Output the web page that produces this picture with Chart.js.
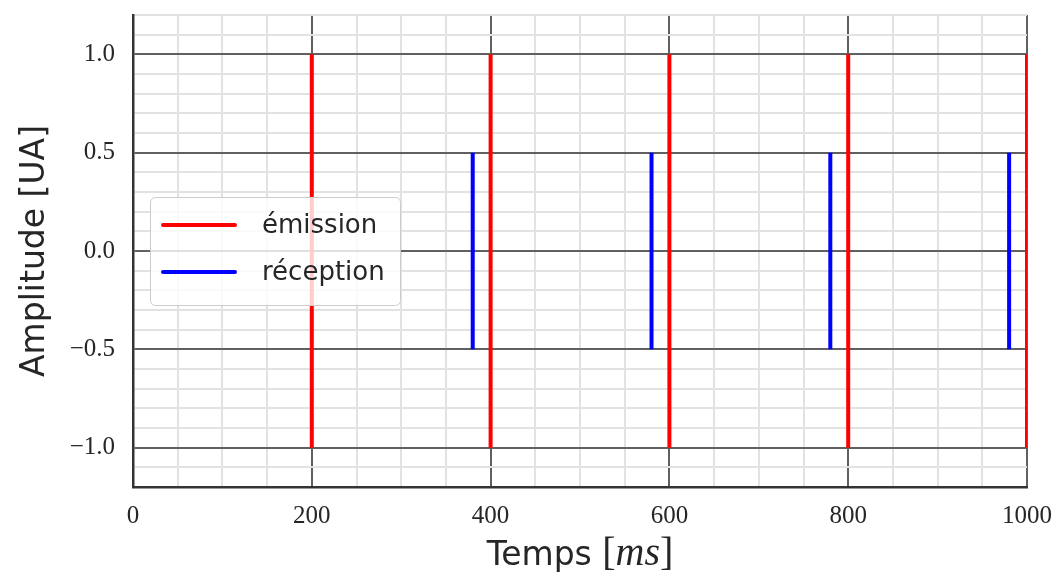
<!DOCTYPE html>
<html>
<head>
<meta charset="utf-8">
<script src="https://cdn.jsdelivr.net/npm/chart.js@4"></script>
<style>
  html, body { margin: 0; padding: 0; background: #fff; }
  #wrap { width: 1056px; height: 573px; }
</style>
</head>
<body>
<div id="wrap"><canvas id="chart" width="1056" height="573"></canvas></div>
<script>
// --- data ---
const emissionTimes = [200, 400, 600, 800, 1000];
const emissionAmp = 1.0;
const receptionTimes = [380, 580, 780, 980];
const receptionAmp = 0.5;
const seriesLabels = ['émission', 'réception'];
const seriesColors = ['#ff0000', '#0000ff'];
const xMajorTicks = [0, 200, 400, 600, 800, 1000];
const yMajorTicks = [-1.0, -0.5, 0.0, 0.5, 1.0];

// vertical segments from -amp to +amp, separated by gaps
function pulses(times, amp) {
    const pts = [];
    times.forEach(t => {
        pts.push({ x: t, y: -amp });
        pts.push({ x: t, y: amp });
        pts.push({ x: t, y: null });
    });
    return pts;
}

const isMajor = (v, list) => list.some(m => Math.abs(m - v) < 1e-6);
const fmtY = v => (v < -1e-9 ? '\u2212' : '') + Math.abs(v).toFixed(1);

// legend drawn inside the plot, semi-transparent box
const insideLegend = {
    id: 'insideLegend',
    afterDatasetsDraw(chart) {
        const ctx = chart.ctx;
        const x = 150, y = 197, w = 250, h = 108, r = 5;
        ctx.save();
        ctx.beginPath();
        ctx.roundRect(x + 0.5, y + 0.5, w, h, r);
        ctx.fillStyle = 'rgba(255,255,255,0.8)';
        ctx.fill();
        ctx.strokeStyle = '#cccccc';
        ctx.lineWidth = 1;
        ctx.stroke();
        chart.data.datasets.forEach((ds, i) => {
            const ly = 225 + i * 47;
            ctx.beginPath();
            ctx.moveTo(163, ly);
            ctx.lineTo(235, ly);
            ctx.strokeStyle = ds.borderColor;
            ctx.lineWidth = 4;
            ctx.lineCap = 'round';
            ctx.stroke();
            ctx.fillStyle = '#262626';
            ctx.font = '26px "DejaVu Sans"';
            ctx.textBaseline = 'middle';
            ctx.textAlign = 'left';
            ctx.fillText(ds.label, 262, ly + 1);
        });
        ctx.restore();
    }
};

// axis titles (x title mixes plain and italic math text)
const axisTitles = {
    id: 'axisTitles',
    afterDraw(chart) {
        const ctx = chart.ctx;
        const a = chart.chartArea;
        ctx.save();
        ctx.fillStyle = '#262626';
        ctx.textBaseline = 'alphabetic';
        // y title
        ctx.save();
        ctx.translate(44, (a.top + a.bottom) / 2);
        ctx.rotate(-Math.PI / 2);
        ctx.textAlign = 'center';
        ctx.font = '33px "DejaVu Sans"';
        ctx.fillText('Amplitude [UA]', 0, 0);
        ctx.restore();
        // x title
        const parts = [
            { t: 'Temps ', f: '33px "DejaVu Sans"' },
            { t: '[', f: '40px "Liberation Serif"' },
            { t: 'ms', f: 'italic 40px "Liberation Serif"' },
            { t: ']', f: '40px "Liberation Serif"' }
        ];
        let total = 0;
        parts.forEach(p => { ctx.font = p.f; p.w = ctx.measureText(p.t).width; total += p.w; });
        let cx = (a.left + a.right) / 2 - total / 2;
        ctx.textAlign = 'left';
        parts.forEach(p => { ctx.font = p.f; ctx.fillText(p.t, cx, 565); cx += p.w; });
        ctx.restore();
    }
};

new Chart(document.getElementById('chart'), {
    type: 'scatter',
    data: {
        datasets: [
            {
                label: seriesLabels[0],
                data: pulses(emissionTimes, emissionAmp),
                borderColor: seriesColors[0],
                backgroundColor: seriesColors[0],
                borderWidth: 4,
                showLine: true,
                spanGaps: false,
                pointRadius: 0
            },
            {
                label: seriesLabels[1],
                data: pulses(receptionTimes, receptionAmp),
                borderColor: seriesColors[1],
                backgroundColor: seriesColors[1],
                borderWidth: 4,
                showLine: true,
                spanGaps: false,
                pointRadius: 0
            }
        ]
    },
    options: {
        responsive: false,
        animation: false,
        layout: { padding: { top: 15, right: 29, left: 0, bottom: 0 } },
        plugins: { legend: { display: false }, tooltip: { enabled: false } },
        scales: {
            x: {
                type: 'linear',
                min: 0,
                max: 1000,
                afterFit: s => { s.height = 86; s.paddingLeft = 0; s.paddingRight = 0; },
                border: { display: true, color: '#333333', width: 2.5 },
                grid: {
                    drawTicks: false,
                    color: c => isMajor(c.tick.value, xMajorTicks) ? '#606060' : '#e2e2e2',
                    lineWidth: c => isMajor(c.tick.value, xMajorTicks) ? 2 : 2
                },
                ticks: {
                    stepSize: 50,
                    autoSkip: false,
                    maxRotation: 0,
                    padding: 14,
                    color: '#262626',
                    font: { family: '"Liberation Serif"', size: 25 },
                    callback: v => isMajor(v, xMajorTicks) ? String(v) : ''
                }
            },
            y: {
                type: 'linear',
                min: -1.2,
                max: 1.2,
                afterFit: s => { s.width = 133; s.paddingTop = 0; s.paddingBottom = 0; },
                border: { display: true, color: '#333333', width: 2.5 },
                grid: {
                    drawTicks: false,
                    color: c => isMajor(c.tick.value, yMajorTicks) ? '#606060' : '#e2e2e2',
                    lineWidth: c => isMajor(c.tick.value, yMajorTicks) ? 2 : 2
                },
                ticks: {
                    stepSize: 0.1,
                    autoSkip: false,
                    padding: 18,
                    color: '#262626',
                    font: { family: '"Liberation Serif"', size: 25 },
                    callback: v => isMajor(v, yMajorTicks) ? fmtY(v) : ''
                }
            }
        }
    },
    plugins: [insideLegend, axisTitles]
});
</script>
</body>
</html>
